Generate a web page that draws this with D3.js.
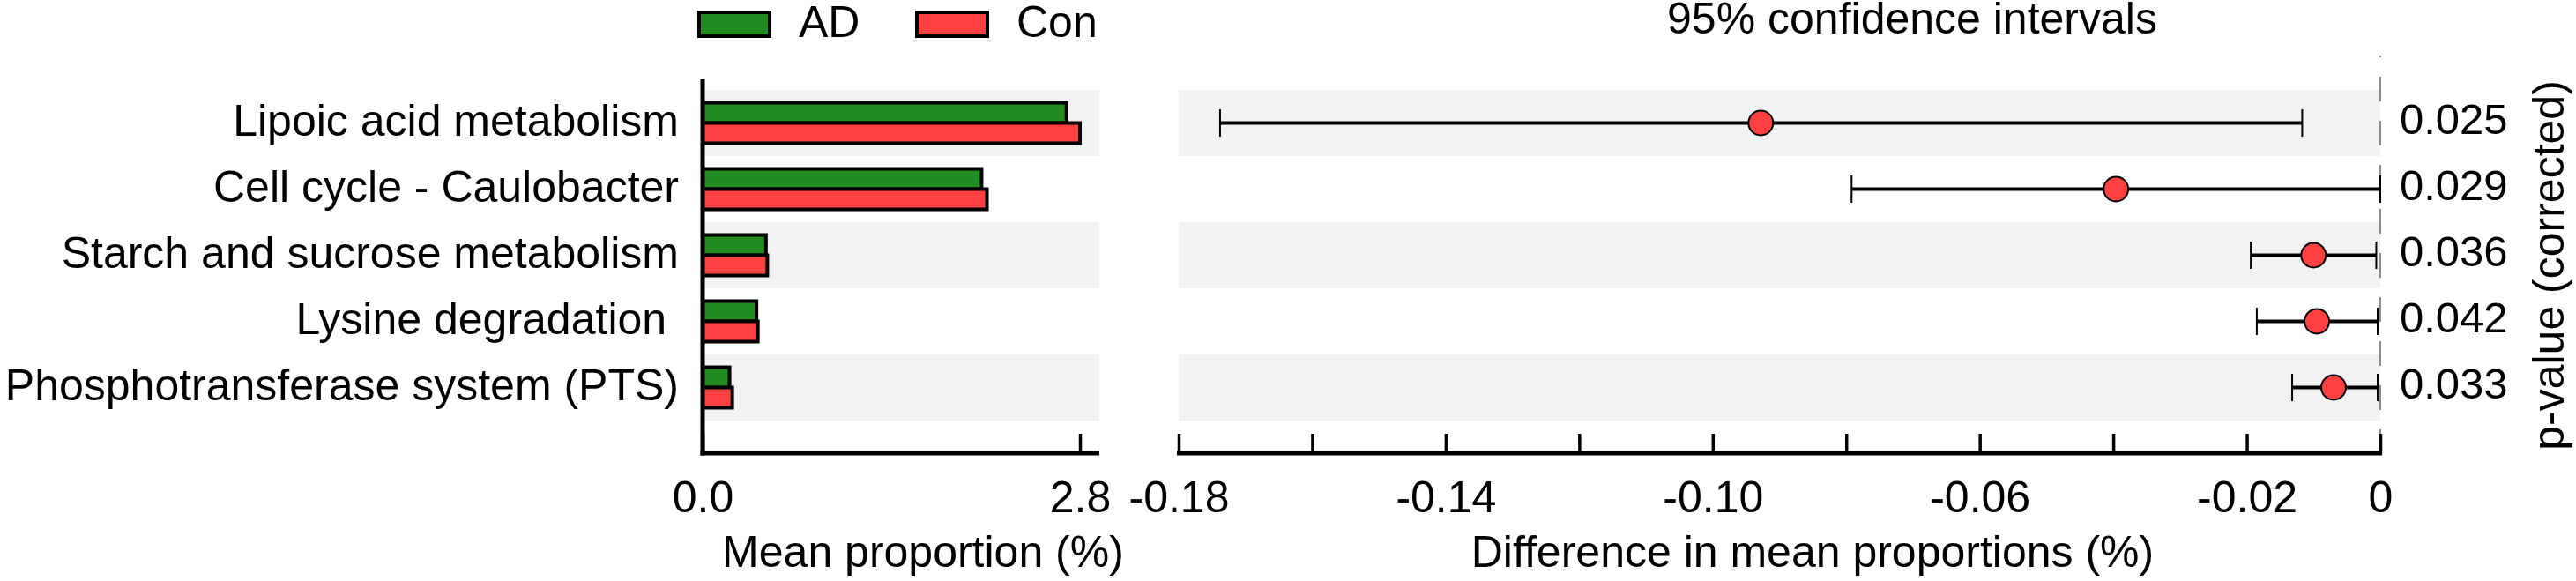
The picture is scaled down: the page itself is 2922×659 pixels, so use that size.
<!DOCTYPE html>
<html>
<head>
  <meta charset="utf-8">
  <script src="https://d3js.org/d3.v7.min.js"></script>
  <style>
    body { margin: 0; background: #fff; }
    svg text { font-family: "Liberation Sans", Arial, sans-serif; fill: #000; }
    .band { fill: #f2f2f2; }
    .axis path { display: none; }
    .axis line { stroke: #000; stroke-width: 3.5; }
    .axis text { font-size: 50px; }
  </style>
</head>
<body>
  <svg id="chart" width="2922" height="659" viewBox="0 0 2922 659"></svg>
  <script>
    // data
    var categories = [
      'Lipoic acid metabolism',
      'Cell cycle - Caulobacter',
      'Starch and sucrose metabolism',
      'Lysine degradation ',
      'Phosphotransferase system (PTS)'
    ];
    var groups = ['AD', 'Con'];
    var adMeans = [2.70, 2.07, 0.47, 0.40, 0.20];
    var conMeans = [2.80, 2.11, 0.48, 0.41, 0.22];
    var diffs = [-0.0928, -0.0396, -0.0100, -0.0095, -0.0070];
    var ciLow = [-0.1738, -0.0792, -0.0194, -0.0185, -0.0132];
    var ciHigh = [-0.0117, 0.0000, -0.0006, -0.0004, -0.0004];
    var pValues = ['0.025', '0.029', '0.036', '0.042', '0.033'];
    var leftTicks = [0, 2.8];
    var rightTicks = [-0.18, -0.16, -0.14, -0.12, -0.10, -0.08, -0.06, -0.04, -0.02, 0];
    var rightTickLabels = ['-0.18', '', '-0.14', '', '-0.10', '', '-0.06', '', '-0.02', '0'];
    var colors = { AD: '#228b22', Con: '#ff4040' };

    var chart = d3.select('#chart');
    var rowTop = 102, rowBottom = 477, axisY = 514;
    var left = { x0: 797, x1: 1247 };
    var right = { x0: 1337, x1: 2700 };

    var y = d3.scaleBand().domain(categories).range([rowTop, rowBottom]);
    var xLeft = d3.scaleLinear().domain([0, 2.8]).range([797, 1225]);
    var xRight = d3.scaleLinear().domain([-0.18, 0]).range([right.x0, right.x1]);
    var sub = d3.scaleBand().domain(groups).range([14.5, y.bandwidth() - 14.5]);

    var rows = categories.map((c, i) => ({
      name: c, ad: adMeans[i], con: conMeans[i],
      diff: diffs[i], lo: ciLow[i], hi: ciHigh[i], p: pValues[i], i: i
    }));

    // alternating row bands
    var striped = rows.filter((d) => d.i % 2 === 0);
    [left, right].forEach((panel) => {
      chart.append('g').selectAll('rect')
        .data(striped)
        .join('rect')
        .attr('class', 'band')
        .attr('x', panel.x0)
        .attr('width', panel.x1 - panel.x0)
        .attr('y', (d) => y(d.name))
        .attr('height', y.bandwidth());
    });

    // left panel: mean proportions
    var bars = chart.append('g');
    rows.forEach((d) => {
      bars.selectAll(null)
        .data([{ g: 'AD', v: d.ad }, { g: 'Con', v: d.con }])
        .join('rect')
        .attr('x', xLeft(0))
        .attr('y', (b) => y(d.name) + sub(b.g))
        .attr('width', (b) => xLeft(b.v) - xLeft(0))
        .attr('height', sub.bandwidth())
        .attr('fill', (b) => colors[b.g])
        .attr('stroke', '#000')
        .attr('stroke-width', 4);
    });

    var yAxis = chart.append('g')
      .attr('class', 'axis')
      .attr('transform', 'translate(' + left.x0 + ',0)')
      .call(d3.axisLeft(y).tickSize(0).tickPadding(27));
    yAxis.selectAll('text').attr('dy', '0.28em').style('white-space', 'pre');

    chart.append('line')
      .attr('x1', left.x0).attr('x2', left.x0)
      .attr('y1', 90).attr('y2', axisY + 2.5)
      .attr('stroke', '#000').attr('stroke-width', 5);

    var xAxisLeft = chart.append('g')
      .attr('class', 'axis')
      .attr('transform', 'translate(0,' + axisY + ')')
      .call(d3.axisBottom(xLeft).tickValues(leftTicks).tickFormat(d3.format('.1f'))
        .tickSizeInner(-22).tickSizeOuter(0).tickPadding(31));

    chart.append('line')
      .attr('x1', left.x0 - 2.5).attr('x2', left.x1)
      .attr('y1', axisY).attr('y2', axisY)
      .attr('stroke', '#000').attr('stroke-width', 5);

    // right panel: differences with confidence intervals
    chart.append('line')
      .attr('x1', xRight(0)).attr('x2', xRight(0))
      .attr('y1', 63).attr('y2', axisY)
      .attr('stroke', '#8c8c8c').attr('stroke-width', 2)
      .attr('stroke-dasharray', '28,22').attr('stroke-dashoffset', 26);

    var xAxisRight = chart.append('g')
      .attr('class', 'axis')
      .attr('transform', 'translate(0,' + axisY + ')')
      .call(d3.axisBottom(xRight).tickValues(rightTicks)
        .tickFormat((d, i) => rightTickLabels[i])
        .tickSizeInner(-22).tickSizeOuter(0).tickPadding(31));

    chart.append('line')
      .attr('x1', right.x0 - 2).attr('x2', right.x1 + 2)
      .attr('y1', axisY).attr('y2', axisY)
      .attr('stroke', '#000').attr('stroke-width', 5);

    var ci = chart.append('g').selectAll('g')
      .data(rows)
      .join('g')
      .attr('transform', (d) => 'translate(0,' + (y(d.name) + y.bandwidth() / 2) + ')');

    ci.append('line')
      .attr('x1', (d) => xRight(d.lo)).attr('x2', (d) => xRight(d.hi))
      .attr('stroke', '#000').attr('stroke-width', 4);

    ci.selectAll('line.cap')
      .data((d) => [d.lo, d.hi])
      .join('line')
      .attr('class', 'cap')
      .attr('x1', (v) => xRight(v)).attr('x2', (v) => xRight(v))
      .attr('y1', -15.5).attr('y2', 15.5)
      .attr('stroke', '#000').attr('stroke-width', 2);

    ci.append('circle')
      .attr('cx', (d) => xRight(d.diff))
      .attr('r', 14)
      .attr('fill', colors.Con)
      .attr('stroke', '#000')
      .attr('stroke-width', 2);

    ci.append('text')
      .attr('x', 2722)
      .attr('dy', '0.26em')
      .style('font-size', '49px')
      .text((d) => d.p);

    // titles and legend
    chart.append('text')
      .attr('x', 2169).attr('y', 38)
      .attr('text-anchor', 'middle')
      .style('font-size', '50px')
      .text('95% confidence intervals');

    chart.append('text')
      .attr('x', 1047).attr('y', 643)
      .attr('text-anchor', 'middle')
      .style('font-size', '50px')
      .text('Mean proportion (%)');

    chart.append('text')
      .attr('x', 2056).attr('y', 643)
      .attr('text-anchor', 'middle')
      .style('font-size', '50px')
      .text('Difference in mean proportions (%)');

    chart.append('text')
      .attr('transform', 'translate(2908,301) rotate(-90)')
      .attr('text-anchor', 'middle')
      .style('font-size', '50px')
      .text('p-value (corrected)');

    var legend = chart.append('g').selectAll('g')
      .data(groups)
      .join('g')
      .attr('transform', (d, i) => 'translate(' + (793 + i * 247) + ',14)');

    legend.append('rect')
      .attr('width', 80).attr('height', 27)
      .attr('fill', (d) => colors[d])
      .attr('stroke', '#000').attr('stroke-width', 4);

    legend.append('text')
      .attr('x', 113).attr('y', 28)
      .style('font-size', '50px')
      .text((d) => d);
  </script>
</body>
</html>
